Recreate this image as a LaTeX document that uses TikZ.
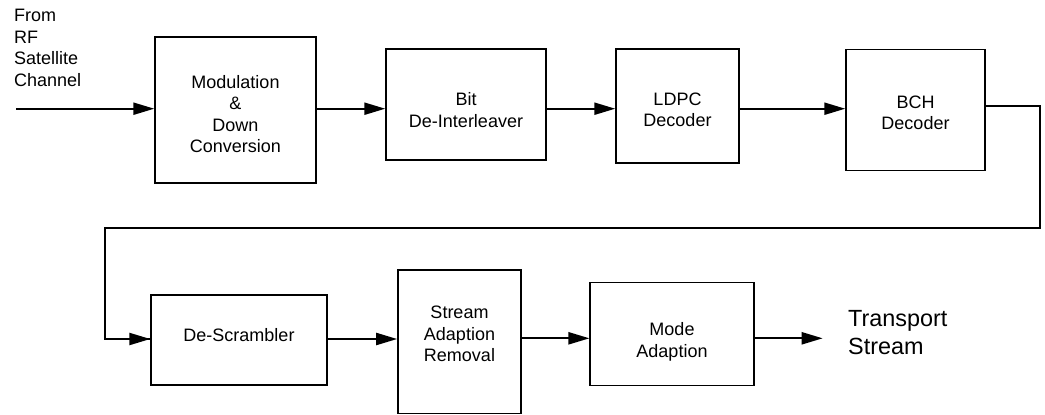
\documentclass[tikz,border=0pt]{standalone}
\usepackage{fontspec}
\setmainfont{Liberation Sans}
\usetikzlibrary{arrows.meta}
\tikzset{
  blk/.style={draw=black, line width=1.4pt, minimum width=#1, inner sep=0pt},
  lbl/.style={align=center, font=\fontsize{18}{21.5}\selectfont, inner sep=0pt},
  conn/.style={line width=2.2pt, -{Triangle[length=21pt,width=12pt]}},
  wire/.style={line width=2.2pt}
}
\begin{document}
\begin{tikzpicture}[x=1pt,y=-1pt]
\useasboundingbox (0,0) rectangle (1045,415);
% boxes
\node[blk=161pt, minimum height=146pt] (b1) at (235.5,110) {};
\node[blk=160pt, minimum height=111pt] (b2) at (466,104.5) {};
\node[blk=123pt, minimum height=114pt] (b3) at (677.5,106) {};
\node[blk=139pt, minimum height=121.5pt] (b4) at (915.5,110) {};
\node[blk=176pt, minimum height=90pt] (b5) at (239,340) {};
\node[blk=123.3pt, minimum height=143.3pt] (b6) at (459.5,341.7) {};
\node[blk=163.7pt, minimum height=103.4pt] (b7) at (672,334) {};
% texts
\node[lbl] (t1) at (235.5,114) {Modulation\\\&\\Down\\Conversion};
\node[lbl] (t2) at (466,110) {Bit\\De-Interleaver};
\node[lbl] (t3) at (677.5,110) {LDPC\\Decoder};
\node[lbl] (t4) at (915.5,113) {BCH\\Decoder};
\node[lbl] (t5) at (239,335) {De-Scrambler};
\node[lbl] (t6) at (459.5,334) {Stream\\Adaption\\Removal};
\node[lbl] (t7) at (672,342) {Mode\\Adaption};
\node[lbl, align=left, anchor=west] (src) at (14,48) {From\\RF\\Satellite\\Channel};
\node[align=left, anchor=west, inner sep=0pt, font=\fontsize{23.4}{28.7}\selectfont] (dst) at (848,332.5) {Transport\\Stream};
% coordinates
\coordinate (in) at (16,108.7);
\coordinate (r1) at (1040,105.7);
\coordinate (r2) at (1040,227.7);
\coordinate (l1) at (105,227.7);
\coordinate (l2) at (105,339);
\coordinate (out) at (822.7,338.3);
% connectors
\draw[conn] (in) -- (b1.west |- in);
\draw[conn] (b1.east |- in) -- (b2.west |- in);
\draw[conn] (b2.east |- in) -- (b3.west |- in);
\draw[conn] (b3.east |- in) -- (b4.west |- in);
\draw[wire, line join=miter] (b4.east |- r1) -- (r1) -- (r2) -- (l1) -- (l2) -- (b5.west |- l2);
\draw[conn] (l2) -- (b5.west |- l2);
\draw[conn] (b5.east |- l2) -- (b6.west |- l2);
\draw[conn] (b6.east |- out) -- (b7.west |- out);
\draw[conn] (b7.east |- out) -- (out);
\end{tikzpicture}
\end{document}
